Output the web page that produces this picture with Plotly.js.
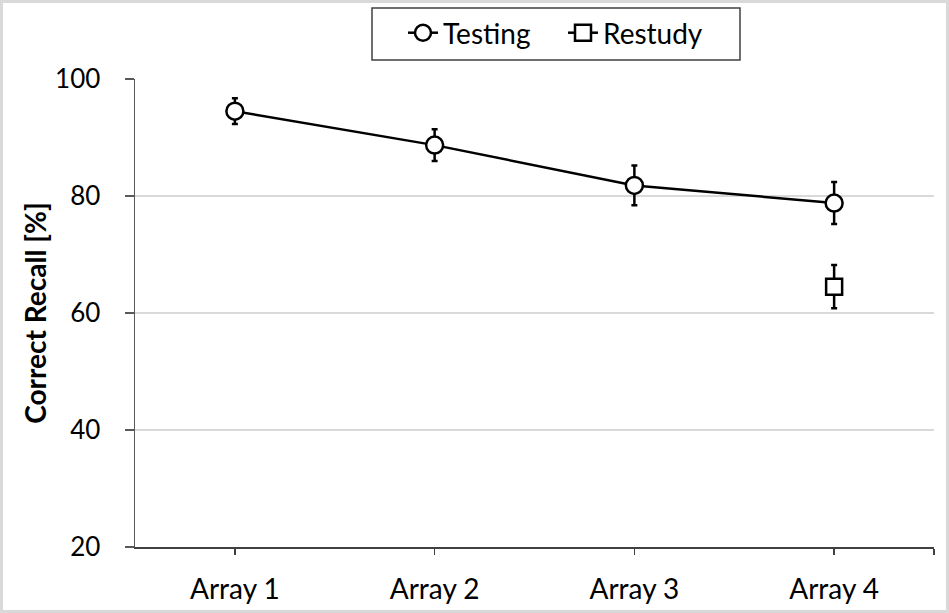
<!DOCTYPE html>
<html>
<head>
<meta charset="utf-8">
<script src="https://cdn.plot.ly/plotly-3.0.1.min.js"></script>
<style>
html,body{margin:0;padding:0;background:#fff;}
#wrap{position:relative;width:949px;height:613px;}
#chart{width:949px;height:613px;}
#frame{position:absolute;left:0;top:0;width:949px;height:613px;box-sizing:border-box;border:3px solid #d9d9d9;pointer-events:none;}
</style>
</head>
<body>
<div id="wrap"><div id="chart"></div><div id="frame"></div></div>
<script>
const categories = ["Array 1", "Array 2", "Array 3", "Array 4"];
const testing = [94.5, 88.7, 81.8, 78.8];
const testingErr = [2.2, 2.7, 3.4, 3.6];
const restudy = [null, null, null, 64.5];
const restudyErr = [null, null, null, 3.7];
const yTicks = [20, 40, 60, 80, 100];

const xIdx = categories.map((c, i) => i);
const FONT = "Lato, 'Open Sans', sans-serif";

// plot area in pixels (for converting layout positions to paper coords)
const PL = 135, PR = 934, PT = 79, PB = 547;
const px = v => (v - PL) / (PR - PL);
const py = v => (PB - v) / (PB - PT);

const traces = [
  {
    name: "Testing", x: xIdx, y: testing, mode: "lines+markers",
    line: {color: "#000", width: 2.5},
    marker: {symbol: "circle", size: 17, color: "#fff", line: {color: "#000", width: 2.5}},
    error_y: {type: "data", array: testingErr, visible: true, color: "#000", thickness: 2.5, width: 3}
  },
  {
    name: "Restudy", x: xIdx, y: restudy, mode: "lines+markers",
    line: {color: "#000", width: 2.5},
    marker: {symbol: "square", size: 16, color: "#fff", line: {color: "#000", width: 2.5}},
    error_y: {type: "data", array: restudyErr, visible: true, color: "#000", thickness: 2.5, width: 3}
  }
];

const layout = {
  width: 949, height: 613,
  margin: {l: PL, r: 949 - PR, t: PT, b: 613 - PB, autoexpand: false},
  paper_bgcolor: "#fff", plot_bgcolor: "#fff",
  font: {family: FONT, size: 28, color: "#000"},
  showlegend: true,
  legend: {
    orientation: "h", x: px(403), xanchor: "left", y: py(33), yanchor: "middle",
    bgcolor: "rgba(0,0,0,0)", borderwidth: 0,
    entrywidth: 115, entrywidthmode: "pixels",
    font: {family: FONT, size: 28, color: "#000"}
  },
  shapes: [
    {type: "rect", xref: "paper", yref: "paper", x0: px(372), x1: px(740), y0: py(8), y1: py(60),
     line: {color: "#404040", width: 1.5}, fillcolor: "#fff", layer: "above"}
  ],
  xaxis: {
    range: [-0.5, 3.5], showgrid: false, zeroline: false,
    tickmode: "array", tickvals: xIdx.concat([3.5]), ticktext: categories.concat([""]),
    ticks: "outside", ticklen: 6, tickwidth: 1.5, tickcolor: "#404040",
    showline: true, linecolor: "#404040", linewidth: 1.5,
    ticklabelstandoff: 11,
    tickfont: {family: FONT, size: 28, color: "#000"}
  },
  yaxis: {
    range: [20, 100], tickmode: "array", tickvals: yTicks,
    showgrid: true, gridcolor: "#d9d9d9", gridwidth: 1.5, zeroline: false,
    ticks: "outside", ticklen: 9, tickwidth: 1.5, tickcolor: "#595959",
    showline: true, linecolor: "#595959", linewidth: 1.5,
    ticklabelstandoff: 19,
    tickfont: {family: FONT, size: 26, color: "#000"},
    title: {text: "<b>Correct Recall [%]</b>", font: {family: FONT, size: 28, color: "#000"}, standoff: 0}
  }
};

Plotly.newPlot("chart", traces, layout, {displayModeBar: false, staticPlot: true});
</script>
</body>
</html>
